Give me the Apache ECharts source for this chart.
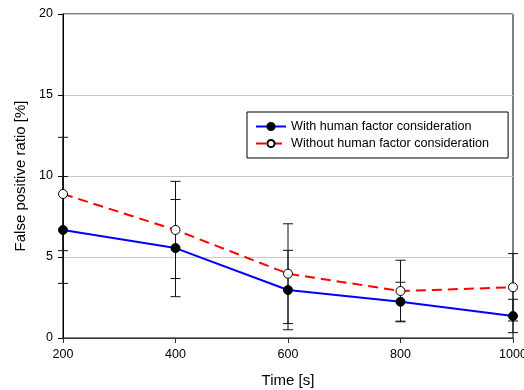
<!DOCTYPE html>
<html><head><meta charset="utf-8">
<script src="https://cdn.jsdelivr.net/npm/echarts@6/dist/echarts.min.js"></script>
<style>html,body{margin:0;padding:0;background:#fff}#c{width:524px;height:390px}</style>
</head><body><div id="c"></div>
<script>
var times = [200, 400, 600, 800, 1000];
var withVals = [6.67, 5.55, 2.96, 2.24, 1.36];
var withErr = [3.3, 3.0, 2.45, 1.2, 1.03];
var withoutVals = [8.89, 6.67, 3.97, 2.9, 3.13];
var withoutErr = [3.5, 3.0, 3.08, 1.9, 2.08];
var yTicks = [0, 5, 10, 15, 20];
var nameWith = 'With human factor consideration';
var nameWithout = 'Without human factor consideration';

function pairs(xs, ys) { return xs.map(function (x, i) { return [x, ys[i]]; }); }
function errData(xs, ys, es) { return xs.map(function (x, i) { return [x, ys[i] - es[i], ys[i] + es[i]]; }); }

function renderErr(params, api) {
  var x = api.value(0), lo = api.value(1), hi = api.value(2);
  var pLo = api.coord([x, lo]), pHi = api.coord([x, hi]);
  var w = 5;
  var st = { stroke: '#111', lineWidth: 1 };
  return { type: 'group', children: [
    { type: 'line', shape: { x1: pLo[0], y1: pLo[1], x2: pHi[0], y2: pHi[1] }, style: st },
    { type: 'line', shape: { x1: pLo[0] - w, y1: pLo[1], x2: pLo[0] + w, y2: pLo[1] }, style: st },
    { type: 'line', shape: { x1: pHi[0] - w, y1: pHi[1], x2: pHi[0] + w, y2: pHi[1] }, style: st }
  ]};
}

var chart = echarts.init(document.getElementById('c'), null, { renderer: 'canvas' });
var font = 'Liberation Sans, Arial, sans-serif';
chart.setOption({
  animation: false,
  grid: { left: 63, right: 11, top: 14, bottom: 52, show: true, borderColor: '#000', borderWidth: 1, outerBoundsMode: 'none', containLabel: false },
  legend: {
    left: 247, top: 112,
    orient: 'vertical', padding: [8, 19, 8, 8], itemGap: 4,
    borderColor: '#000', borderWidth: 1, backgroundColor: '#fff',
    itemWidth: 30, itemHeight: 9,
    textStyle: { fontFamily: font, fontSize: 12.6, color: '#000' },
    data: [nameWith, nameWithout]
  },
  xAxis: {
    type: 'value', min: 200, max: 1000, interval: 200,
    name: 'Time [s]', nameLocation: 'middle', nameGap: 35,
    nameTextStyle: { fontFamily: font, fontSize: 15, color: '#000' },
    axisLine: { show: true, lineStyle: { color: '#333', width: 1 } },
    axisTick: { show: true, inside: false, length: 5, lineStyle: { color: '#333' } },
    axisLabel: { fontFamily: font, fontSize: 12.5, color: '#000', margin: 10, formatter: function (v) { return String(v); } },
    splitLine: { show: false }
  },
  yAxis: {
    type: 'value', min: yTicks[0], max: yTicks[yTicks.length - 1], interval: 5,
    name: 'False positive ratio [%]', nameLocation: 'middle', nameGap: 35,
    nameTextStyle: { fontFamily: font, fontSize: 15, color: '#000' },
    axisLine: { show: true, lineStyle: { color: '#000', width: 1 } },
    axisTick: { show: true, inside: false, length: 5, lineStyle: { color: '#000' } },
    axisLabel: { fontFamily: font, fontSize: 12.5, color: '#000', margin: 10 },
    splitLine: { show: true, lineStyle: { color: '#c8c8c8', width: 1 } }
  },
  series: [
    { type: 'custom', renderItem: renderErr, data: errData(times, withVals, withErr), z: 1, silent: true, clip: false },
    { type: 'custom', renderItem: renderErr, data: errData(times, withoutVals, withoutErr), z: 1, silent: true, clip: false },
    {
      name: nameWith, type: 'line', data: pairs(times, withVals), z: 3,
      symbol: 'circle', symbolSize: 9,
      lineStyle: { color: '#0000ff', width: 2 },
      itemStyle: { color: '#000', borderColor: '#000', borderWidth: 1 }
    },
    {
      name: nameWithout, type: 'line', data: pairs(times, withoutVals), z: 3,
      symbol: 'circle', symbolSize: 9,
      lineStyle: { color: '#ff0000', width: 2, type: [10, 6] },
      itemStyle: { color: '#fff', borderColor: '#000', borderWidth: 1 }
    }
  ]
});
</script></body></html>
